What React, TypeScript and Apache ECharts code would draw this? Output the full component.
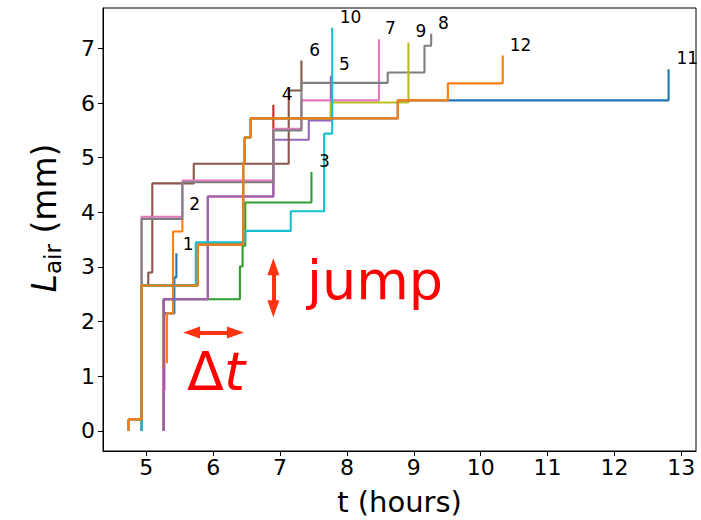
import React, { useEffect, useRef } from 'react';
import * as echarts from 'echarts';

const FONT = 'DejaVu Sans';

// tab10 colour cycle (series 1..12)
const COLORS = ['#1f77b4', '#ff7f0e', '#2ca02c', '#d62728', '#9467bd', '#8c564b',
  '#e377c2', '#7f7f7f', '#bcbd22', '#17becf', '#1f77b4', '#ff7f0e'];

// step series (steps-post): time in hours, L_air in mm
const s1T = [5.27, 5.27, 5.42, 5.45];
const s1L = [0.74, 2.15, 2.81, 3.25];
const s2T = [5.31, 5.31, 5.40, 5.54];
const s2L = [1.24, 2.15, 3.65, 3.92];
const s3T = [5.26, 5.26, 6.40, 6.44, 6.48, 7.47];
const s3L = [0, 2.41, 3.01, 3.39, 4.18, 4.74];
const s4T = [5.26, 5.26, 5.92, 6.90];
const s4L = [0, 2.41, 4.29, 5.97];
const s5T = [5.26, 5.26, 5.92, 6.90, 7.43, 7.76];
const s5L = [0, 2.41, 4.29, 5.33, 5.68, 6.50];
const s6T = [4.93, 4.93, 5.03, 5.09, 5.71, 7.13, 7.32];
const s6L = [0, 2.66, 2.90, 4.53, 4.89, 6.23, 6.78];
const s7T = [4.93, 4.93, 5.54, 6.90, 7.32, 8.48];
const s7L = [0, 3.92, 4.58, 5.53, 6.05, 7.17];
const s8T = [4.93, 4.93, 5.54, 6.90, 7.32, 8.61, 9.16, 9.26];
const s8L = [0, 3.88, 4.55, 5.50, 6.37, 6.56, 7.05, 7.27];
const s9T = [4.735, 4.735, 4.93, 5.77, 6.45, 6.47, 6.56, 7.76, 8.92];
const s9L = [0, 0.21, 2.66, 3.41, 4.91, 5.37, 5.72, 6.01, 7.11];
const s10T = [4.93, 4.93, 5.74, 6.48, 7.16, 7.66, 7.78];
const s10L = [0, 2.66, 3.45, 3.66, 4.02, 5.44, 7.38];
const s11T = [4.735, 4.735, 4.93, 5.77, 6.45, 6.47, 6.56, 8.76, 12.81];
const s11L = [0, 0.21, 2.66, 3.41, 4.91, 5.37, 5.72, 6.05, 6.62];
const s12T = [4.735, 4.735, 4.93, 5.77, 6.45, 6.47, 6.56, 8.76, 9.51, 10.33];
const s12L = [0, 0.21, 2.66, 3.41, 4.91, 5.37, 5.72, 6.05, 6.36, 6.87];

const SERIES_T = [s1T, s2T, s3T, s4T, s5T, s6T, s7T, s8T, s9T, s10T, s11T, s12T];
const SERIES_L = [s1L, s2L, s3L, s4L, s5L, s6L, s7L, s8L, s9L, s10L, s11L, s12L];

// series number labels
const labelText = ['1', '2', '3', '4', '5', '6', '7', '8', '9', '10', '11', '12'];
const labelT = [5.625, 5.722, 7.665, 7.105, 7.964, 7.516, 8.652, 9.444, 9.108, 8.054, 13.09, 10.595];
const labelL = [3.42, 4.16, 4.94, 6.16, 6.71, 6.97, 7.37, 7.46, 7.31, 7.57, 6.83, 7.07];

// axis ticks
const xTicks = [5, 6, 7, 8, 9, 10, 11, 12, 13];
const yTicks = [0, 1, 2, 3, 4, 5, 6, 7];

// annotation arrows (data coords of shaft ends)
const jumpArrowT = [6.90, 6.90];
const jumpArrowL = [2.235, 3.005];
const dtArrowT = [5.677, 6.333];
const dtArrowL = [1.80, 1.80];

const ARROW = '#ff3311';

function buildOption() {
  const lines = SERIES_T.map((ts, i) => ({
    type: 'line',
    name: labelText[i],
    data: ts.map((t, j) => [t, SERIES_L[i][j]]),
    step: 'end',
    showSymbol: false,
    symbol: 'none',
    silent: true,
    lineStyle: { color: COLORS[i], width: 2.1 },
    itemStyle: { color: COLORS[i] },
  }));

  const labels = {
    type: 'scatter',
    silent: true,
    symbol: 'circle',
    symbolSize: 1,
    itemStyle: { color: 'rgba(0,0,0,0)' },
    data: labelT.map((t, i) => [t, labelL[i], labelText[i]]),
    label: {
      show: true,
      position: 'inside',
      formatter: (p: any) => p.value[2],
      color: '#000',
      opacity: 1,
      fontFamily: FONT,
      fontSize: 17,
    },
    z: 5,
    markLine: {
      silent: true,
      symbol: ['triangle', 'triangle'],
      symbolSize: [12, 17],
      label: { show: false },
      lineStyle: { color: ARROW, width: 4, type: 'solid', opacity: 1 },
      data: [
        [{ coord: [jumpArrowT[0], jumpArrowL[0]] }, { coord: [jumpArrowT[1], jumpArrowL[1]] }],
        [{ coord: [dtArrowT[0], dtArrowL[0]] }, { coord: [dtArrowT[1], dtArrowL[1]] }],
      ],
    },
  };

  return {
    animation: false,
    backgroundColor: '#fff',
    grid: {
      left: 103, top: 8, width: 593, height: 443,
      show: true, borderColor: '#000', borderWidth: 1,
      outerBoundsMode: 'none',
    },
    xAxis: {
      type: 'value',
      min: 4.353,
      max: 13.22,
      name: 't (hours)',
      nameLocation: 'middle',
      nameGap: 36,
      nameTextStyle: { fontFamily: FONT, fontSize: 29, color: '#000' },
      splitLine: { show: false },
      axisLine: { show: true, onZero: false, lineStyle: { color: '#000', width: 1 } },
      axisTick: { show: true, length: 5, customValues: xTicks, lineStyle: { color: '#000', width: 1 } },
      axisLabel: { customValues: xTicks, fontFamily: FONT, fontSize: 22, color: '#000', margin: 5 },
    },
    yAxis: {
      type: 'value',
      min: -0.368,
      max: 7.74,
      splitLine: { show: false },
      axisLine: { show: true, onZero: false, lineStyle: { color: '#000', width: 1 } },
      axisTick: { show: true, length: 5, customValues: yTicks, lineStyle: { color: '#000', width: 1 } },
      axisLabel: { customValues: yTicks, fontFamily: FONT, fontSize: 22, color: '#000', margin: 8 },
    },
    graphic: [
      {
        type: 'text',
        x: 44, y: 218,
        rotation: Math.PI / 2,
        silent: true,
        style: {
          text: '{L|L}{s|air}{n| (mm)}',
          textAlign: 'center',
          textVerticalAlign: 'middle',
          fill: '#000',
          rich: {
            L: { fontFamily: FONT, fontSize: 33, fontStyle: 'italic', lineHeight: 40, fill: '#000' },
            s: { fontFamily: FONT, fontSize: 23, lineHeight: 18, verticalAlign: 'bottom', fill: '#000' },
            n: { fontFamily: FONT, fontSize: 33, lineHeight: 40, fill: '#000' },
          },
        },
      },
      {
        type: 'text',
        x: 307, y: 280,
        silent: true,
        style: {
          text: 'jump',
          fontFamily: FONT, fontSize: 54,
          fill: '#ff0000',
          textAlign: 'left',
          textVerticalAlign: 'middle',
        },
      },
      {
        type: 'text',
        x: 187, y: 371,
        silent: true,
        style: {
          text: '{d|Δ}{t|t}',
          textAlign: 'left',
          textVerticalAlign: 'middle',
          fill: '#ff0000',
          rich: {
            d: { fontFamily: FONT, fontSize: 54, fill: '#ff0000' },
            t: { fontFamily: FONT, fontSize: 54, fontStyle: 'italic', fill: '#ff0000' },
          },
        },
      },
    ],
    series: [...lines, labels],
  };
}

export default function App() {
  const ref = useRef<HTMLDivElement>(null);
  useEffect(() => {
    document.body.style.margin = '0';
    const chart = echarts.init(ref.current!, null, { renderer: 'svg' });
    chart.setOption(buildOption() as any);
    return () => chart.dispose();
  }, []);
  return <div ref={ref} style={{ width: 701, height: 520 }} />;
}
